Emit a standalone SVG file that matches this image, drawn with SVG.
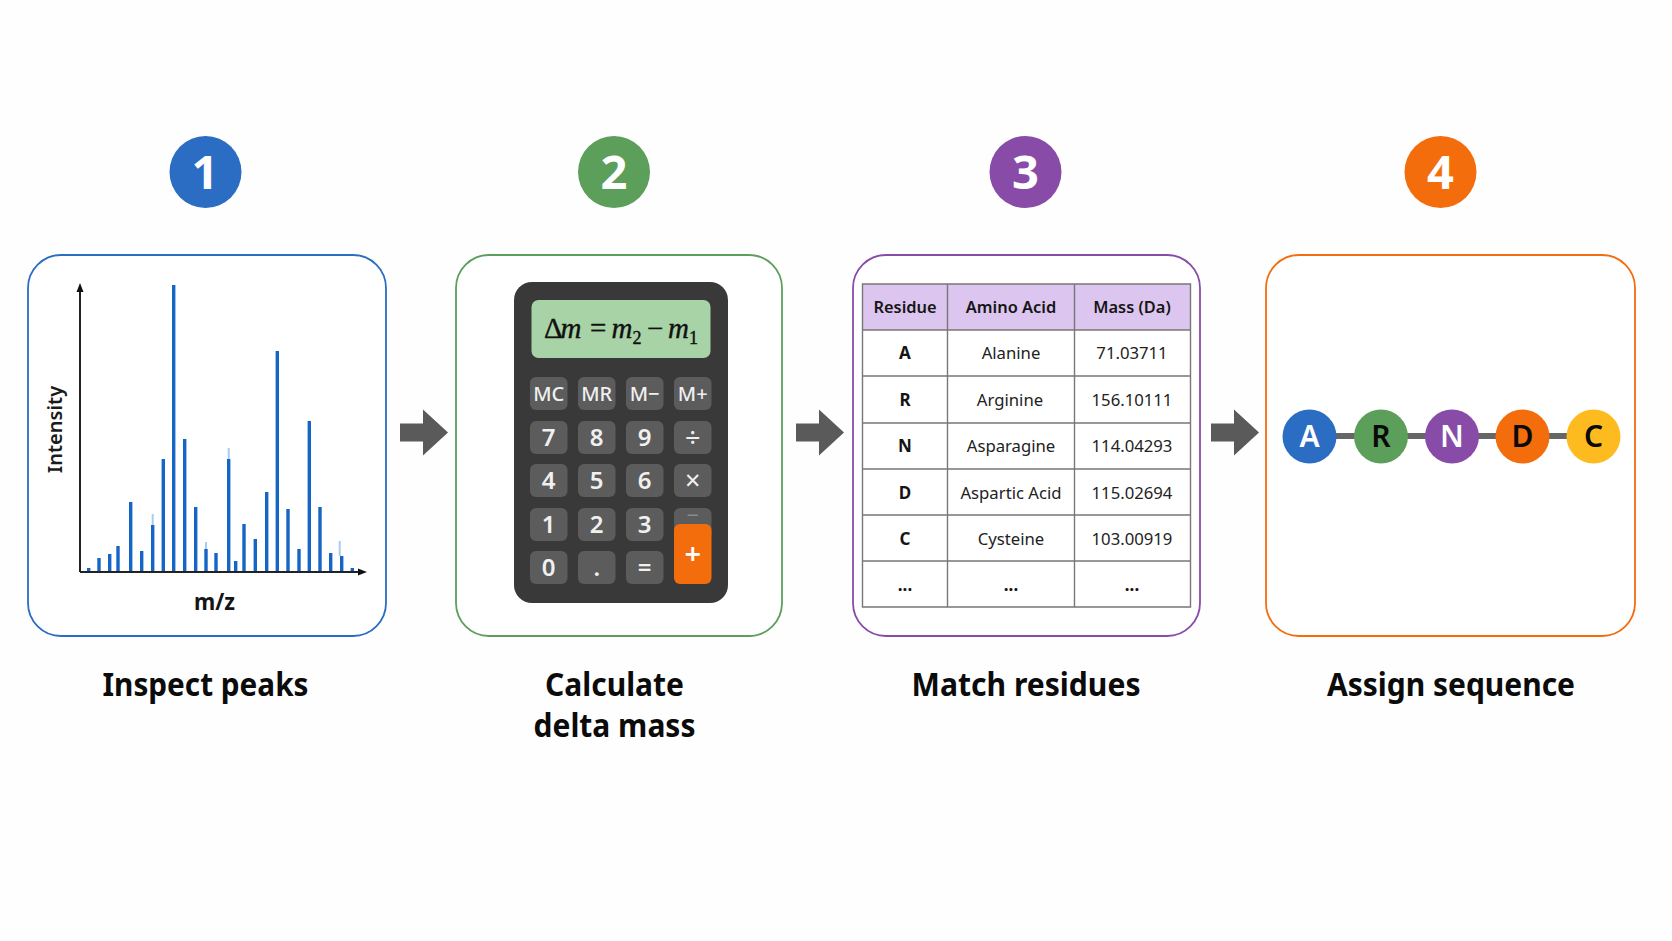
<svg xmlns="http://www.w3.org/2000/svg" width="1672" height="941" viewBox="0 0 1672 941">
<style>
text{font-family:"Noto Sans","Open Sans","Liberation Sans",sans-serif;text-anchor:middle}
.panel{fill:#fff;stroke-width:1.800}
.step{font-size:47px;font-weight:700;fill:#fff}
.title{font-size:32px;font-weight:700;fill:#0b0b0b}
.axis{stroke:#222;stroke-width:2;fill:none}
.peak{stroke:#1565c4;stroke-width:3.400}
.ghost{stroke:#a9cbee;stroke-width:2}
.key{fill:#5c5c5c}
.kt{font-size:24px;font-weight:600;fill:#f0f0f0}
.ko{font-size:27px;font-weight:400;fill:#f0f0f0}
.km{font-size:20px;font-weight:500;fill:#f0f0f0}
.grid{stroke:#777;stroke-width:1.400;fill:none}
.th{font-size:16.400px;font-weight:600;fill:#151515}
.td{font-size:16.700px;fill:#222}
.tb{font-size:17px;font-weight:700;fill:#151515}
.arrow{fill:#5a5a5a}
.link{stroke:#666;stroke-width:6}
.res{font-size:30px;font-weight:600}
.math{font-family:"Liberation Serif","DejaVu Serif",serif;font-size:29px;fill:#111;stroke:#111;stroke-width:.4;text-anchor:start}
.msub{font-size:18px}
</style>
<defs>
<path id="block-arrow" d="M0 -9H23V-23L48 0L23 23V9H0Z"/>
</defs>
<rect width="1672" height="941" fill="#fefefe"/>

<g id="connectors">
<use href="#block-arrow" class="arrow" x="400" y="432.500"/>
<use href="#block-arrow" class="arrow" x="796" y="432.500"/>
<use href="#block-arrow" class="arrow" x="1211" y="432.500"/>
</g>

<g id="step-1">
<circle cx="205.500" cy="172" r="36" fill="#2a6dc3"/>
<text class="step" x="205" y="189">1</text>
</g>
<g id="step-2">
<circle cx="614" cy="172" r="36" fill="#5c9f5b"/>
<text class="step" x="614" y="189">2</text>
</g>
<g id="step-3">
<circle cx="1025.500" cy="172" r="36" fill="#884ca8"/>
<text class="step" x="1025.500" y="189">3</text>
</g>
<g id="step-4">
<circle cx="1440.500" cy="172" r="36" fill="#f46d0d"/>
<text class="step" x="1440.500" y="189">4</text>
</g>

<g id="panel-peaks">
<rect class="panel" x="28" y="255" width="358" height="381" rx="33" stroke="#2a6dc3"/>
<g id="spectrum">
<line class="ghost" x1="152.700" y1="514" x2="152.700" y2="525"/>
<line class="ghost" x1="206" y1="542" x2="206" y2="550"/>
<line class="ghost" x1="228.700" y1="448" x2="228.700" y2="460"/>
<line class="ghost" x1="339.700" y1="541" x2="339.700" y2="556"/>
<g class="peak">
<line x1="88.700" y1="568" x2="88.700" y2="572"/>
<line x1="99" y1="558" x2="99" y2="572"/>
<line x1="109.700" y1="554" x2="109.700" y2="572"/>
<line x1="118" y1="546" x2="118" y2="572"/>
<line x1="130.700" y1="502" x2="130.700" y2="572"/>
<line x1="141.700" y1="551" x2="141.700" y2="572"/>
<line x1="152.700" y1="525" x2="152.700" y2="572"/>
<line x1="163.300" y1="459" x2="163.300" y2="572"/>
<line x1="173.700" y1="285" x2="173.700" y2="572"/>
<line x1="184.700" y1="439" x2="184.700" y2="572"/>
<line x1="195.700" y1="507" x2="195.700" y2="572"/>
<line x1="206" y1="549" x2="206" y2="572"/>
<line x1="216" y1="553" x2="216" y2="572"/>
<line x1="228.700" y1="459" x2="228.700" y2="572"/>
<line x1="235.700" y1="561" x2="235.700" y2="572"/>
<line x1="244" y1="524" x2="244" y2="572"/>
<line x1="255.300" y1="539" x2="255.300" y2="572"/>
<line x1="266.700" y1="492" x2="266.700" y2="572"/>
<line x1="277.300" y1="351" x2="277.300" y2="572"/>
<line x1="288" y1="509" x2="288" y2="572"/>
<line x1="299" y1="549" x2="299" y2="572"/>
<line x1="309.300" y1="421" x2="309.300" y2="572"/>
<line x1="320" y1="507" x2="320" y2="572"/>
<line x1="330.700" y1="553" x2="330.700" y2="572"/>
<line x1="341.700" y1="556" x2="341.700" y2="572"/>
<line x1="352.300" y1="568" x2="352.300" y2="572"/>
</g>
<path class="axis" d="M80 572V290M80 572H360"/>
<path d="M80 283L76.500 292H83.500ZM367 572L358 568.500V575.500Z" fill="#111"/>
</g>
<text x="61.500" y="429.500" font-size="20" font-weight="600" fill="#1b1b1b" transform="rotate(-90 61.500 429.500)">Intensity</text>
<text x="214.500" y="610" font-size="24" font-weight="700" fill="#151515" textLength="41" lengthAdjust="spacingAndGlyphs">m/z</text>
</g>
<g id="label-peaks"><text class="title" x="205.500" y="696" textLength="206" lengthAdjust="spacingAndGlyphs">Inspect peaks</text></g>

<g id="panel-delta">
<rect class="panel" x="456" y="255" width="326" height="381" rx="33" stroke="#5c9f5b"/>
<rect x="514" y="282" width="214" height="321" rx="18" fill="#393939"/>
<rect x="531.500" y="300" width="179" height="58" rx="7" fill="#a8d3a6"/>
<text class="math" y="338"><tspan x="544">Δ</tspan><tspan x="560.500" font-style="italic">m</tspan><tspan x="590">=</tspan><tspan x="611.500" font-style="italic">m</tspan><tspan x="632.500" y="344" class="msub">2</tspan><tspan x="647" y="338">−</tspan><tspan x="668" font-style="italic">m</tspan><tspan x="689" y="344" class="msub">1</tspan></text>
<g class="key">
<rect x="530" y="377" width="37.500" height="33" rx="6"/><rect x="578" y="377" width="37.500" height="33" rx="6"/><rect x="626" y="377" width="37.500" height="33" rx="6"/><rect x="674" y="377" width="37.500" height="33" rx="6"/>
<rect x="530" y="421" width="37.500" height="33" rx="6"/><rect x="578" y="421" width="37.500" height="33" rx="6"/><rect x="626" y="421" width="37.500" height="33" rx="6"/><rect x="674" y="421" width="37.500" height="33" rx="6"/>
<rect x="530" y="464" width="37.500" height="33" rx="6"/><rect x="578" y="464" width="37.500" height="33" rx="6"/><rect x="626" y="464" width="37.500" height="33" rx="6"/><rect x="674" y="464" width="37.500" height="33" rx="6"/>
<rect x="530" y="508" width="37.500" height="33" rx="6"/><rect x="578" y="508" width="37.500" height="33" rx="6"/><rect x="626" y="508" width="37.500" height="33" rx="6"/><rect x="674" y="508" width="37.500" height="33" rx="6"/>
<rect x="530" y="551" width="37.500" height="33" rx="6"/><rect x="578" y="551" width="37.500" height="33" rx="6"/><rect x="626" y="551" width="37.500" height="33" rx="6"/>
</g>
<rect x="674" y="524" width="37.500" height="60" rx="6" fill="#f46d0d"/>
<text class="km" x="548.700" y="401">MC</text><text class="km" x="596.700" y="401">MR</text><text class="km" x="644.700" y="401">M−</text><text class="km" x="692.700" y="401">M+</text>
<text class="kt" x="548.700" y="446">7</text><text class="kt" x="596.700" y="446">8</text><text class="kt" x="644.700" y="446">9</text><text class="ko" x="692.700" y="447">÷</text>
<text class="kt" x="548.700" y="489">4</text><text class="kt" x="596.700" y="489">5</text><text class="kt" x="644.700" y="489">6</text><text class="ko" x="692.700" y="490">×</text>
<text class="kt" x="548.700" y="533">1</text><text class="kt" x="596.700" y="533">2</text><text class="kt" x="644.700" y="533">3</text><text x="692.700" y="523" font-size="22" fill="#8a8a8a">−</text>
<text class="kt" x="548.700" y="576">0</text><text class="kt" x="596.700" y="576">.</text><text class="kt" x="644.700" y="576">=</text>
<text x="692.700" y="564" font-size="29" font-weight="600" fill="#fff">+</text>
</g>
<g id="label-delta">
<text class="title" x="614.500" y="696" textLength="139" lengthAdjust="spacingAndGlyphs">Calculate</text>
<text class="title" x="614.500" y="737" textLength="162" lengthAdjust="spacingAndGlyphs">delta mass</text>
</g>

<g id="panel-residues">
<rect class="panel" x="853" y="255" width="347" height="381" rx="33" stroke="#884ca8"/>
<rect x="862.500" y="284" width="328" height="46" fill="#dcc5ee"/>
<path class="grid" d="M862.500 284H1190.500V607H862.500ZM862.500 330H1190.500M862.500 376H1190.500M862.500 423H1190.500M862.500 469H1190.500M862.500 515H1190.500M862.500 561H1190.500M947.500 284V607M1074.500 284V607"/>
<text class="th" x="905" y="313">Residue</text><text class="th" x="1011" y="313">Amino Acid</text><text class="th" x="1132" y="313">Mass (Da)</text>
<text class="tb" x="905" y="359">A</text><text class="td" x="1011" y="359">Alanine</text><text class="td" x="1132" y="359">71.03711</text>
<text class="tb" x="905" y="406">R</text><text class="td" x="1010" y="406">Arginine</text><text class="td" x="1132" y="406">156.10111</text>
<text class="tb" x="905" y="452">N</text><text class="td" x="1011" y="452">Asparagine</text><text class="td" x="1132" y="452">114.04293</text>
<text class="tb" x="905" y="499">D</text><text class="td" x="1011" y="499">Aspartic Acid</text><text class="td" x="1132" y="499">115.02694</text>
<text class="tb" x="905" y="545">C</text><text class="td" x="1011" y="545">Cysteine</text><text class="td" x="1132" y="545">103.00919</text>
<text class="tb" x="905" y="591">...</text><text class="tb" x="1011" y="591">...</text><text class="tb" x="1132" y="591">...</text>
</g>
<g id="label-residues"><text class="title" x="1026" y="696" textLength="229" lengthAdjust="spacingAndGlyphs">Match residues</text></g>

<g id="panel-sequence">
<rect class="panel" x="1266" y="255" width="369" height="381" rx="33" stroke="#f46d0d"/>
<g id="chain-links">
<line class="link" x1="1309" y1="436" x2="1593" y2="436"/>
</g>
<g id="residue-A"><circle cx="1309.500" cy="436.500" r="27" fill="#2a6dc3"/><text class="res" x="1309.500" y="447" fill="#fff">A</text></g>
<g id="residue-R"><circle cx="1381" cy="436.500" r="27" fill="#5c9f5b"/><text class="res" x="1381" y="447" fill="#0a0a0a">R</text></g>
<g id="residue-N"><circle cx="1452" cy="436.500" r="27" fill="#884ca8"/><text class="res" x="1452" y="447" fill="#fff">N</text></g>
<g id="residue-D"><circle cx="1522.500" cy="436.500" r="27" fill="#f46d0d"/><text class="res" x="1522.500" y="447" fill="#0a0a0a">D</text></g>
<g id="residue-C"><circle cx="1593.500" cy="436.500" r="27" fill="#fdbb1f"/><text class="res" x="1593.500" y="447" fill="#0a0a0a">C</text></g>
</g>
<g id="label-sequence"><text class="title" x="1451" y="696" textLength="248" lengthAdjust="spacingAndGlyphs">Assign sequence</text></g>
</svg>
